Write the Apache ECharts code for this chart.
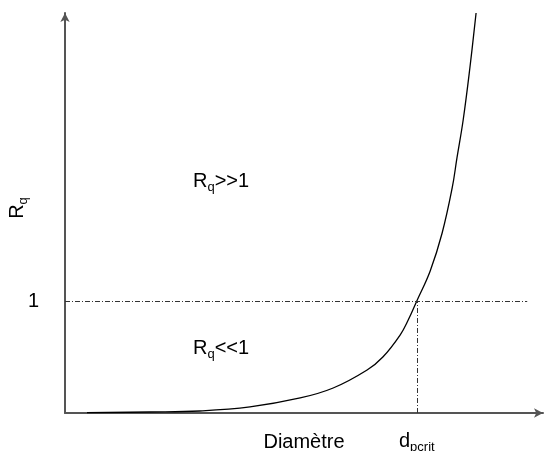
<!DOCTYPE html>
<html>
<head>
<meta charset="utf-8">
<script src="https://cdn.jsdelivr.net/npm/echarts@6/dist/echarts.min.js"></script>
<style>html,body{margin:0;padding:0;background:#fff;}#c{width:544px;height:451px;}</style>
</head>
<body>
<div id="c"></div>
<script>
// Data (diameter in arbitrary units 0..100, Rq ratio)
const curveX = [4.6, 17.8, 28.2, 38.7, 49.2, 56.1, 63.2, 66.5, 70.1, 71.8, 73.6, 76.4, 78.9, 81.0, 82.0, 83.3, 84.7, 86.0];
const curveY = [0.004, 0.009, 0.018, 0.054, 0.134, 0.223, 0.384, 0.50, 0.696, 0.830, 1.0, 1.268, 1.607, 2.009, 2.277, 2.616, 3.080, 3.571];
const refY = 1;            // Rq = 1 reference level
const critX = 73.6;        // d_pcrit
const refLineEndX = 96.7;  // end of horizontal reference line
const yMax = 3.571;
const yTickLabels = ['1'];

const FONT = 'Liberation Sans';
const sub = { fontSize: 13, fontFamily: FONT, color: '#000', verticalAlign: 'bottom', lineHeight: 13 };
const main = { fontSize: 20, fontFamily: FONT, color: '#000', lineHeight: 20, padding: [0, 0, 5, 0] };

const chart = echarts.init(document.getElementById('c'), null, { renderer: 'canvas' });
chart.setOption({
  animation: false,
  backgroundColor: '#fff',
  grid: { left: 65, right: 1, top: 13, bottom: 38, containLabel: false, outerBoundsMode: 'none' },
  xAxis: {
    type: 'value', min: 0, max: 100,
    name: 'Diamètre', nameLocation: 'middle', nameGap: 19,
    nameTextStyle: { fontSize: 20, fontFamily: FONT, color: '#000' },
    axisLine: { show: true, onZero: false, symbol: ['none', 'arrow'], symbolSize: [7, 9], lineStyle: { color: '#555', width: 2 } },
    axisTick: { show: false }, axisLabel: { show: false }, splitLine: { show: false }
  },
  yAxis: {
    type: 'value', min: 0, max: yMax, interval: 1,
    axisLine: { show: true, onZero: false, symbol: ['none', 'arrow'], symbolSize: [7, 9], lineStyle: { color: '#555', width: 2 } },
    axisTick: { show: false }, splitLine: { show: false },
    axisLabel: {
      margin: 26, fontSize: 20, fontFamily: FONT, color: '#000',
      formatter: v => (yTickLabels.indexOf(String(v)) >= 0 ? String(v) : '')
    }
  },
  graphic: [
    { type: 'text', x: 20, y: 208, rotation: Math.PI / 2,
      style: { text: '{r|R}{s|q}', rich: { r: main, s: sub }, align: 'center', verticalAlign: 'middle' } },
    { type: 'text', left: 193, top: 171, style: { text: '{r|R}{s|q}{r|>>1}', rich: { r: main, s: sub } } },
    { type: 'text', left: 193, top: 338, style: { text: '{r|R}{s|q}{r|<<1}', rich: { r: main, s: sub } } }
  ],
  series: [{
    type: 'line',
    data: curveX.map((x, i) => [x, curveY[i]]),
    smooth: 0.4, showSymbol: false, clip: false,
    lineStyle: { color: '#000', width: 1.3 },
    markLine: {
      silent: true, symbol: ['none', 'none'], animation: false,
      lineStyle: { color: '#333', width: 1, type: [5, 2, 1, 2] },
      data: [
        [{ coord: [0, refY], label: { show: false } }, { coord: [refLineEndX, refY] }],
        [{ coord: [critX, 0], label: { show: true, position: 'start', distance: 21,
            formatter: '{r|d}{s|pcrit}', rich: { r: main, s: sub } } }, { coord: [critX, refY] }]
      ]
    }
  }]
});
</script>
</body>
</html>
